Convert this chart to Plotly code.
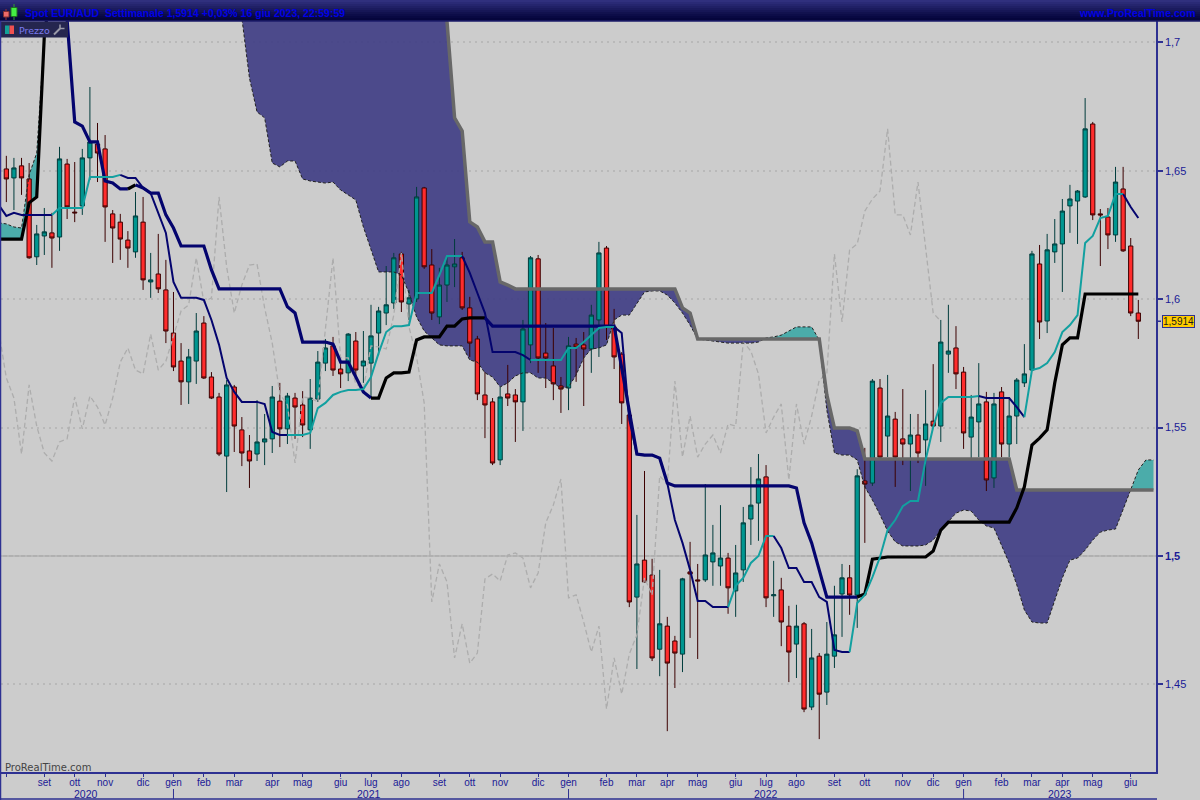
import pandas as pd
import plotly.graph_objects as go

# ---------- data ----------
opens = [
1.6507,1.6472,1.6519,1.6468,1.6165,1.6246,1.6258,1.6242,1.6526,1.6339,
1.6363,1.6550,1.6604,1.6585,1.6332,1.6300,1.6230,1.6184,1.6300,1.6067,
1.6098,1.6036,1.5868,1.5759,1.5678,1.5759,1.5907,1.5697,1.5619,1.5389,
1.5658,1.5491,1.5409,1.5397,1.5444,1.5456,1.5603,1.5495,1.5615,1.5588,
1.5491,1.5611,1.5751,1.5818,1.5728,1.5713,1.5837,1.5740,1.5751,1.5868,
1.5946,1.5985,1.6176,1.5981,1.6001,1.6433,1.6133,1.5931,1.6055,1.6126,
1.6161,1.5966,1.5845,1.5627,1.5600,1.5374,1.5631,1.5627,1.5600,1.5822,
1.6157,1.5790,1.5740,1.5662,1.5654,1.5825,1.5822,1.5806,1.5919,1.6199,
1.5892,1.5786,1.5549,1.4840,1.4984,1.4926,1.4637,1.4727,1.4669,1.4618,
1.4938,1.4907,1.4907,1.4977,1.4961,1.4992,1.4864,1.4946,1.5144,1.5206,
1.5308,1.4845,1.4868,1.4727,1.4657,1.4736,1.4412,1.4610,1.4470,1.4610,
1.4852,1.4915,1.4848,1.5292,1.5284,1.5654,1.5467,1.5533,1.5456,1.5436,
1.5471,1.5452,1.5525,1.5506,1.5786,1.5810,1.5716,1.5463,1.5522,1.5600,
1.5304,1.5639,1.5436,1.5545,1.5674,1.5724,1.6137,1.5915,1.6184,1.6215,
1.6363,1.6382,1.6398,1.6682,1.6332,1.6320,1.6250,1.6429,1.6207,1.5946]
highs = [
1.6558,1.6550,1.6550,1.6530,1.6289,1.6355,1.6336,1.6593,1.6546,1.6534,
1.6585,1.6826,1.6686,1.6639,1.6347,1.6332,1.6265,1.6417,1.6398,1.6180,
1.6254,1.6153,1.6028,1.5829,1.5806,1.5946,1.5934,1.5716,1.5635,1.5685,
1.5666,1.5541,1.5471,1.5607,1.5553,1.5662,1.5674,1.5635,1.5635,1.5642,
1.5689,1.5798,1.5845,1.5853,1.5751,1.5868,1.5872,1.5876,1.5978,1.5970,
1.6129,1.6180,1.6184,1.6036,1.6437,1.6437,1.6195,1.6122,1.6168,1.6234,
1.6184,1.6009,1.5857,1.5716,1.5615,1.5658,1.5744,1.5650,1.5919,1.6168,
1.6172,1.5907,1.5888,1.5697,1.5853,1.5849,1.5872,1.5978,1.6223,1.6207,
1.5962,1.5794,1.5561,1.5160,1.5331,1.4989,1.4946,1.4763,1.4689,1.4915,
1.5055,1.4969,1.5280,1.5121,1.5198,1.5012,1.5043,1.5191,1.5346,1.5397,
1.5354,1.4981,1.4915,1.4806,1.4810,1.4743,1.4716,1.4622,1.4743,1.4884,
1.4969,1.4965,1.5338,1.5421,1.5689,1.5689,1.5705,1.5561,1.5650,1.5553,
1.5553,1.5646,1.5747,1.5919,1.5978,1.5895,1.5736,1.5627,1.5751,1.5639,
1.5635,1.5658,1.5619,1.5693,1.5825,1.6188,1.6211,1.6254,1.6312,1.6390,
1.6445,1.6425,1.6783,1.6690,1.6351,1.6355,1.6515,1.6515,1.6238,1.5997]
lows = [
1.6378,1.6347,1.6406,1.6157,1.6133,1.6172,1.6122,1.6188,1.6312,1.6300,
1.6328,1.6464,1.6456,1.6223,1.6141,1.6153,1.6122,1.6161,1.6036,1.6005,
1.6024,1.5829,1.5720,1.5588,1.5592,1.5670,1.5689,1.5611,1.5389,1.5249,
1.5405,1.5350,1.5265,1.5370,1.5354,1.5401,1.5424,1.5436,1.5456,1.5463,
1.5417,1.5600,1.5720,1.5701,1.5654,1.5681,1.5693,1.5674,1.5619,1.5782,
1.5899,1.5962,1.5950,1.5919,1.5989,1.6118,1.5919,1.5903,1.5989,1.6047,
1.5958,1.5775,1.5607,1.5459,1.5354,1.5354,1.5584,1.5444,1.5487,1.5751,
1.5713,1.5654,1.5607,1.5557,1.5568,1.5678,1.5584,1.5713,1.5775,1.5841,
1.5728,1.5514,1.4801,1.4560,1.4895,1.4591,1.4532,1.4318,1.4486,1.4548,
1.4681,1.4599,1.4899,1.4884,1.4884,1.4775,1.4763,1.4899,1.5043,1.5059,
1.4801,1.4763,1.4649,1.4509,1.4525,1.4392,1.4400,1.4287,1.4420,1.4564,
1.4685,1.4771,1.4720,1.5051,1.5273,1.5374,1.5385,1.5269,1.5354,1.5253,
1.5362,1.5273,1.5502,1.5444,1.5713,1.5650,1.5417,1.5381,1.5385,1.5253,
1.5265,1.5385,1.5385,1.5436,1.5658,1.5720,1.5845,1.5868,1.6141,1.6028,
1.6258,1.6215,1.6394,1.6308,1.6129,1.6195,1.6223,1.6184,1.5934,1.5845]
closes = [
1.6468,1.6511,1.6472,1.6161,1.6254,1.6262,1.6238,1.6546,1.6359,1.6336,
1.6550,1.6612,1.6569,1.6359,1.6277,1.6234,1.6199,1.6324,1.6075,1.6075,
1.6040,1.5876,1.5736,1.5678,1.5775,1.5876,1.5693,1.5615,1.5397,1.5666,
1.5506,1.5401,1.5370,1.5444,1.5456,1.5619,1.5495,1.5623,1.5580,1.5510,
1.5615,1.5755,1.5810,1.5724,1.5709,1.5864,1.5724,1.5759,1.5857,1.5954,
1.5978,1.6161,1.5989,1.6005,1.6398,1.6126,1.5946,1.6055,1.6133,1.6137,
1.5966,1.5829,1.5631,1.5588,1.5362,1.5619,1.5615,1.5600,1.5884,1.6161,
1.5771,1.5771,1.5670,1.5650,1.5818,1.5814,1.5806,1.5938,1.6180,1.5892,
1.5775,1.5596,1.4821,1.4969,1.4899,1.4603,1.4736,1.4583,1.4622,1.4911,
1.4930,1.4903,1.5004,1.5012,1.4992,1.4876,1.4934,1.5129,1.5198,1.5300,
1.4837,1.4849,1.4743,1.4626,1.4727,1.4404,1.4603,1.4462,1.4618,1.4693,
1.4915,1.4848,1.5312,1.5280,1.5681,1.5385,1.5545,1.5385,1.5436,1.5471,
1.5401,1.5514,1.5506,1.5833,1.5798,1.5709,1.5479,1.5541,1.5592,1.5296,
1.5592,1.5436,1.5545,1.5685,1.5709,1.6176,1.5911,1.6192,1.6215,1.6343,
1.6390,1.6421,1.6663,1.6328,1.6328,1.6250,1.6456,1.6188,1.5946,1.5914]

# the line series start one week before the first candle (it shows at the left edge)
tenkan = [1.6367,
1.6324,1.6336,1.6328,1.6328,1.6328,1.6328,1.6328,1.6355,1.6355,1.6355,
1.6355,1.6476,1.6476,1.6476,1.6476,1.6484,1.6472,1.6472,1.6433,1.6413,
1.6336,1.6258,1.6067,1.6005,1.6005,1.6005,1.5997,1.5919,1.5822,1.5693,
1.5639,1.5600,1.5600,1.5600,1.5592,1.5483,1.5471,1.5471,1.5471,1.5471,
1.5479,1.5576,1.5596,1.5627,1.5639,1.5646,1.5646,1.5650,1.5697,1.5790,
1.5872,1.5895,1.5895,1.5899,1.6024,1.6024,1.6024,1.6094,1.6168,1.6168,
1.6168,1.6102,1.6024,1.5946,1.5794,1.5794,1.5794,1.5794,1.5782,1.5763,
1.5763,1.5763,1.5763,1.5763,1.5810,1.5810,1.5833,1.5860,1.5888,1.5892,
1.5892,1.5868,1.5530,1.5397,1.5393,1.5393,1.5381,1.5284,1.5140,1.5051,
1.4946,1.4825,1.4825,1.4801,1.4801,1.4801,1.4884,1.4915,1.4973,1.5000,
1.5078,1.5078,1.5031,1.4953,1.4953,1.4899,1.4899,1.4840,1.4821,1.4634,
1.4626,1.4626,1.4817,1.4848,1.4918,1.4996,1.5101,1.5140,1.5194,1.5214,
1.5214,1.5374,1.5502,1.5596,1.5619,1.5619,1.5619,1.5619,1.5623,1.5615,
1.5615,1.5615,1.5615,1.5580,1.5541,1.5724,1.5732,1.5751,1.5794,1.5872,
1.5899,1.5938,1.6219,1.6246,1.6316,1.6324,1.6409,1.6409,1.6359,1.6316]
kijun = [1.6234,
1.6234,1.6234,1.6234,1.6375,1.6398,1.7025,1.7243,1.7243,1.7087,1.6690,
1.6674,1.6612,1.6612,1.6460,1.6452,1.6429,1.6429,1.6445,1.6433,1.6413,
1.6413,1.6328,1.6277,1.6207,1.6207,1.6207,1.6207,1.6114,1.6040,1.6040,
1.6040,1.6040,1.6040,1.6040,1.6040,1.6040,1.6040,1.5970,1.5946,1.5833,
1.5833,1.5833,1.5833,1.5825,1.5755,1.5755,1.5697,1.5639,1.5615,1.5615,
1.5693,1.5713,1.5713,1.5716,1.5841,1.5853,1.5853,1.5853,1.5895,1.5895,
1.5923,1.5927,1.5927,1.5927,1.5895,1.5895,1.5895,1.5895,1.5895,1.5895,
1.5895,1.5895,1.5895,1.5895,1.5895,1.5895,1.5895,1.5895,1.5895,1.5895,
1.5895,1.5732,1.5568,1.5397,1.5393,1.5393,1.5381,1.5284,1.5273,1.5273,
1.5273,1.5273,1.5273,1.5273,1.5273,1.5273,1.5273,1.5273,1.5273,1.5273,
1.5273,1.5273,1.5273,1.5273,1.5265,1.5129,1.5051,1.4946,1.4840,1.4840,
1.4840,1.4840,1.4840,1.4852,1.4988,1.4992,1.4996,1.4996,1.4996,1.4996,
1.4996,1.4996,1.5019,1.5101,1.5132,1.5132,1.5132,1.5132,1.5132,1.5132,
1.5132,1.5132,1.5132,1.5187,1.5269,1.5432,1.5459,1.5491,1.5674,1.5822,
1.5849,1.5849,1.6020,1.6020,1.6020,1.6020,1.6020,1.6020,1.6020,1.6020]
senkou_a = [1.6297,
1.6293,1.6281,1.6277,1.6484,1.6569,1.7017,1.7280,
None,None,None,None,None,None,None,None,None,None,None,None,None,None,None,None,None,None,None,None,None,None,None,
1.7379,1.7095,1.6861,1.6729,1.6706,1.6530,1.6515,1.6538,1.6538,1.6468,
1.6460,1.6456,1.6452,1.6456,1.6425,1.6406,1.6386,1.6281,1.6192,1.6106,
1.6106,1.6106,1.6094,1.6024,1.5931,1.5876,1.5849,1.5822,1.5818,1.5818,
1.5818,1.5763,1.5755,1.5713,1.5697,1.5658,1.5674,1.5701,1.5713,1.5713,
1.5693,1.5693,1.5674,1.5654,1.5658,1.5705,1.5771,1.5806,1.5810,1.5822,
1.5919,1.5938,1.5938,1.5981,1.6028,1.6032,1.6032,1.6016,1.5985,1.5946,
1.5899,1.5845,1.5841,1.5837,1.5833,1.5829,1.5829,1.5829,1.5829,1.5833,
1.5849,1.5853,1.5860,1.5876,1.5892,1.5892,1.5892,1.5841,1.5568,1.5401,
1.5393,1.5393,1.5374,1.5269,1.5218,1.5160,1.5097,1.5055,1.5039,1.5039,
1.5039,1.5043,1.5062,1.5101,1.5136,1.5167,1.5179,1.5175,1.5140,1.5117,
1.5109,1.5043,1.4973,1.4888,1.4790,1.4743,1.4739,1.4739,1.4829,1.4915,
1.4984,1.4992,1.5023,1.5062,1.5093,1.5101,1.5105,1.5179,1.5257,1.5335,1.5374,1.5374]
senkou_b = [1.6234,
1.6234,1.6234,1.6234,1.6375,1.6398,1.7009,1.7200,
None,None,None,None,None,None,None,None,None,None,None,None,None,None,None,None,None,None,None,None,None,None,None,
1.7500,1.7500,1.7500,1.7500,1.7500,1.7500,1.7500,1.7500,1.7500,1.7500,
1.7500,1.7500,1.7500,1.7500,1.7500,1.7500,1.7500,1.7500,1.7500,1.7500,
1.7500,1.7500,1.7500,1.7500,1.7500,1.7500,1.7500,1.7457,1.7083,1.6706,
1.6655,1.6301,1.6281,1.6223,1.6223,1.6067,1.6055,1.6040,1.6040,1.6040,
1.6040,1.6040,1.6040,1.6040,1.6040,1.6040,1.6040,1.6040,1.6040,1.6040,
1.6040,1.6040,1.6040,1.6040,1.6040,1.6040,1.6040,1.6040,1.6040,1.5966,
1.5946,1.5845,1.5845,1.5845,1.5845,1.5845,1.5845,1.5845,1.5845,1.5845,
1.5845,1.5845,1.5845,1.5845,1.5845,1.5845,1.5845,1.5845,1.5627,1.5498,
1.5498,1.5498,1.5487,1.5378,1.5378,1.5378,1.5378,1.5378,1.5378,1.5378,
1.5378,1.5378,1.5378,1.5378,1.5378,1.5378,1.5378,1.5378,1.5378,1.5378,
1.5378,1.5378,1.5378,1.5257,1.5257,1.5257,1.5257,1.5257,1.5257,1.5257,
1.5257,1.5257,1.5257,1.5257,1.5257,1.5257,1.5257,1.5257,1.5257,1.5257,1.5257,1.5257]

tick_weeks = ["2020-08-03","2020-09-07","2020-10-05","2020-11-02","2020-12-07",
              "2021-01-04","2021-02-01","2021-03-01","2021-04-05","2021-05-03","2021-06-07","2021-07-05","2021-08-02",
              "2021-09-06","2021-10-04","2021-11-01","2021-12-06",
              "2022-01-03","2022-02-07","2022-03-07","2022-04-04","2022-05-02","2022-06-06","2022-07-04","2022-08-01",
              "2022-09-05","2022-10-03","2022-11-07","2022-12-05",
              "2023-01-02","2023-02-06","2023-03-06","2023-04-03","2023-05-01","2023-06-05"]
tick_labels = ["","set","ott","nov","dic",
               "gen","feb","mar","apr","mag","giu","lug","ago",
               "set","ott","nov","dic",
               "gen","feb","mar","apr","mag","giu","lug","ago",
               "set","ott","nov","dic",
               "gen","feb","mar","apr","mag","giu"]
year_labels = ["2020","2021","2022","2023"]
year_dates = ["2020-10-15","2021-07-03","2022-07-04","2023-04-01"]
year_marks = ["2021-01-04","2022-01-03","2023-01-02"]
price_ticks = [1.45,1.5,1.55,1.6,1.65,1.7]
price_labels = ["1,45","<b>1,5</b>","1,55","1,6","1,65","1,7"]

# colour runs over the line series, as (first, last) positions
NAVY, TEAL_LINE, BLACK = "#04046e", "#12a0a0", "#000000"
tenkan_runs = [(0,7,NAVY),(7,16,TEAL_LINE),(16,38,NAVY),(38,61,TEAL_LINE),(61,70,NAVY),(70,81,TEAL_LINE),
               (81,96,NAVY),(96,102,TEAL_LINE),(102,112,NAVY),(112,129,TEAL_LINE),(129,135,NAVY),(135,148,TEAL_LINE),(148,150,NAVY)]
kijun_runs = [(0,7,BLACK),(7,17,NAVY),(17,18,BLACK),(18,49,NAVY),(49,64,BLACK),(64,113,NAVY),(113,150,BLACK)]
CLOUD_BLUE, CLOUD_TEAL = "rgba(66,64,133,0.93)", "#4bacaa"
cloud_runs = [(0,7,CLOUD_TEAL),(31,101,CLOUD_BLUE),(101,108,CLOUD_TEAL),(108,149,CLOUD_BLUE),(149,152,CLOUD_TEAL)]

assert len(opens)==len(highs)==len(lows)==len(closes)==150
assert len(tenkan)==len(kijun)==151
assert len(senkou_a)==len(senkou_b)==153

weeks = pd.date_range("2020-08-03", periods=150, freq="7D")
line_weeks = pd.date_range("2020-07-27", periods=153, freq="7D")
chikou_weeks = weeks[25:] - pd.Timedelta(weeks=26)
chikou = closes[25:]

W, H = 1200, 800
L, R, T, B = 1, 44, 21, 28
PW, PH = W - L - R, H - T - B
def px(x): return (x - L) / PW
def py(y): return 1 - (y - T) / PH

INK = "#1a1a96"
FRAME = "#2e3192"
YR = [1.4159, 1.7083]

fig = go.Figure()

# cloud on the base axes, so that the candles stand in front of it
for s, e, c in cloud_runs:
    fig.add_trace(go.Scatter(x=line_weeks[s:e+1], y=senkou_b[s:e+1], mode="lines", line=dict(width=0), hoverinfo="skip"))
    fig.add_trace(go.Scatter(x=line_weeks[s:e+1], y=senkou_a[s:e+1], mode="lines", line=dict(width=0), hoverinfo="skip",
                             fill="tonexty", fillcolor=c))

fig.add_trace(go.Candlestick(x=weeks, open=opens, high=highs, low=lows, close=closes, yaxis="y2",
    increasing=dict(line=dict(color="#003c3c", width=1), fillcolor="#009690"),
    decreasing=dict(line=dict(color="#3c0000", width=1), fillcolor="#ff2c2c"),
    whiskerwidth=0))

fig.add_trace(go.Scatter(x=chikou_weeks, y=chikou, yaxis="y2", mode="lines",
                         line=dict(color="#adadad", width=1.3, dash="5px,3px")))
fig.add_trace(go.Scatter(x=line_weeks, y=senkou_a, yaxis="y2", mode="lines",
                         line=dict(color="#222222", width=1, dash="3px,2px")))
fig.add_trace(go.Scatter(x=line_weeks[31:], y=senkou_b[31:], yaxis="y2", mode="lines",
                         line=dict(color="#686868", width=3.5)))
for s, e, c in kijun_runs:
    fig.add_trace(go.Scatter(x=line_weeks[s:e+1], y=kijun[s:e+1], yaxis="y2", mode="lines",
                             line=dict(color=c, width=3.2)))
for s, e, c in tenkan_runs:
    fig.add_trace(go.Scatter(x=line_weeks[s:e+1], y=tenkan[s:e+1], yaxis="y2", mode="lines",
                             line=dict(color=c, width=2)))

shapes = []
# solid line at the 1,5 level
shapes.append(dict(type="line", xref="paper", x0=0, x1=1, yref="y", y0=1.5, y1=1.5,
                   line=dict(color="#959595", width=1), layer="below"))
# title band, darkening downwards (each band runs down to the bottom so no seams show)
bands = ["#30307e","#2a2a76","#25256e","#202066","#1b1b5e","#161656","#11114e","#0c0c48","#080842","#05053c"]
for k, c in enumerate(bands):
    shapes.append(dict(type="rect", xref="paper", yref="paper", x0=px(0), x1=px(W),
                       y0=py(21), y1=py(k*2), fillcolor=c, line=dict(width=0)))
shapes.append(dict(type="line", xref="paper", yref="paper", x0=px(0), x1=px(W), y0=py(21), y1=py(21),
                   line=dict(color="#1c1c6a", width=1.5)))
# small candles of the title icon
shapes += [
    dict(type="line", xref="paper", yref="paper", x0=px(6), x1=px(6), y0=py(9), y1=py(20), line=dict(color="#a03030", width=1)),
    dict(type="rect", xref="paper", yref="paper", x0=px(3.5), x1=px(9), y0=py(17), y1=py(11.5), fillcolor="#ee6a6a", line=dict(color="#803030", width=1)),
    dict(type="line", xref="paper", yref="paper", x0=px(14), x1=px(14), y0=py(4), y1=py(20), line=dict(color="#30a030", width=1)),
    dict(type="rect", xref="paper", yref="paper", x0=px(11), x1=px(17), y0=py(16.5), y1=py(7.5), fillcolor="#44ee44", line=dict(color="#207020", width=1)),
]
# "Prezzo" tab
shapes += [
    dict(type="rect", xref="paper", yref="paper", x0=px(1), x1=px(68), y0=py(37.5), y1=py(22), fillcolor="#25264f", line=dict(width=0)),
    dict(type="rect", xref="paper", yref="paper", x0=px(5), x1=px(9.5), y0=py(34), y1=py(25.5), fillcolor="#12a098", line=dict(width=0)),
    dict(type="rect", xref="paper", yref="paper", x0=px(9.5), x1=px(14), y0=py(34), y1=py(25.5), fillcolor="#f05050", line=dict(width=0)),
    dict(type="line", xref="paper", yref="paper", x0=px(54), x1=px(60), y0=py(34.5), y1=py(28.5), line=dict(color="#9a9aa8", width=2)),
    dict(type="line", xref="paper", yref="paper", x0=px(60), x1=px(64.5), y0=py(28.5), y1=py(28.5), line=dict(color="#9a9aa8", width=1.5)),
    dict(type="line", xref="paper", yref="paper", x0=px(60), x1=px(60), y0=py(28.5), y1=py(24.5), line=dict(color="#9a9aa8", width=1.5)),
]
# outer frame
shapes += [
    dict(type="line", xref="paper", yref="paper", x0=px(0.5), x1=px(0.5), y0=py(800), y1=py(21), line=dict(color=FRAME, width=1.5)),
    dict(type="line", xref="paper", yref="paper", x0=px(0), x1=px(1157), y0=py(799), y1=py(799), line=dict(color=FRAME, width=1.5)),
]
# tick for the last price
shapes.append(dict(type="line", xref="paper", x0=1, x1=px(1161), yref="y", y0=closes[-1], y1=closes[-1],
                   line=dict(color=FRAME, width=1.5)))
# year separators under the time axis
for d in year_marks:
    shapes.append(dict(type="line", xref="x", x0=d, x1=d, yref="paper", y0=py(789), y1=py(799),
                       line=dict(color=FRAME, width=1)))

annotations = [
    dict(text="<b>Spot EUR/AUD  Settimanale 1,5914 +0,03% 16 giu 2023, 22:59:59</b>", xref="paper", yref="paper",
         x=px(23), y=py(13), xanchor="left", yanchor="middle", showarrow=False,
         font=dict(family="Liberation Sans", size=10.5, color="#0000e6")),
    dict(text="<b>www.ProRealTime.com</b>", xref="paper", yref="paper", x=px(1198), y=py(13), xanchor="right", yanchor="middle",
         showarrow=False, font=dict(family="Liberation Sans", size=10.5, color="#0000e6")),
    dict(text="Prezzo", xref="paper", yref="paper", x=px(17), y=py(30), xanchor="left", yanchor="middle", showarrow=False,
         font=dict(family="DejaVu Sans", size=9.5, color="#7a7af0")),
    dict(text="ProRealTime.com", xref="paper", yref="paper", x=px(3), y=py(767), xanchor="left", yanchor="middle", showarrow=False,
         font=dict(family="DejaVu Sans", size=10, color="#444444")),
    dict(text=f"{closes[-1]:.4f}".replace(".", ","), xref="paper", yref="y", x=px(1161.5), y=closes[-1], xanchor="left", yanchor="middle",
         showarrow=False, bgcolor="#ffcc00", bordercolor=FRAME, borderwidth=1, borderpad=0,
         font=dict(family="Liberation Sans", size=10, color="#1a1a1a")),
]
for t, d in zip(year_labels, year_dates):
    annotations.append(dict(text=t, xref="x", yref="paper", x=d, y=py(793.5), xanchor="center", yanchor="middle",
                            showarrow=False, font=dict(family="Liberation Sans", size=10.5, color=INK)))

fig.update_layout(
    width=W, height=H, margin=dict(l=L, r=R, t=T, b=B, pad=0), boxgap=0.2,
    paper_bgcolor="#cccccc", plot_bgcolor="#cccccc", showlegend=False,
    shapes=shapes, annotations=annotations,
    xaxis=dict(type="date", range=["2020-07-29 02:00", "2023-06-28 07:00"], rangeslider=dict(visible=False),
               tickmode="array", tickvals=tick_weeks, ticktext=tick_labels, ticks="outside", ticklen=3, tickwidth=1,
               tickcolor=FRAME, tickangle=0, ticklabelstandoff=-3, tickfont=dict(family="Liberation Sans", size=10, color=INK),
               showgrid=False, zeroline=False, showline=True, linecolor=FRAME, linewidth=1.5),
    yaxis=dict(range=YR, side="right", tickmode="array", tickvals=price_ticks, ticktext=price_labels,
               ticks="outside", ticklen=5, tickwidth=1.5, tickcolor=FRAME,
               tickfont=dict(family="Liberation Sans", size=11, color=INK),
               showgrid=True, gridcolor="#b9b9b9", gridwidth=1.5, griddash="2px,4px",
               zeroline=False, showline=True, linecolor=FRAME, linewidth=1.5),
    yaxis2=dict(range=YR, overlaying="y", side="right", visible=False),
)

fig.write_html("out.html", config=dict(displayModeBar=False),
               post_script="document.body.style.margin='0';document.body.style.overflow='hidden';")
